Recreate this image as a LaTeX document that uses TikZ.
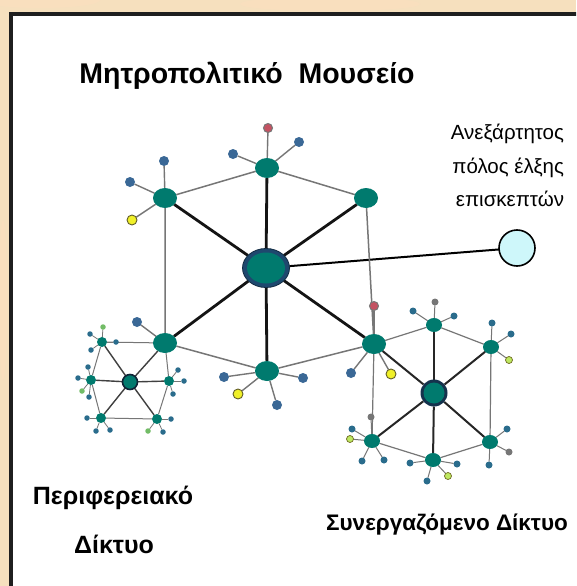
\documentclass[tikz,border=0pt]{standalone}
\usepackage{fontspec}
\setmainfont{Liberation Sans}
\usetikzlibrary{shapes.geometric}
\pgfdeclarelayer{paper}
\pgfdeclarelayer{edges}
\pgfsetlayers{paper,edges,main}
\definecolor{tealn}{RGB}{0,122,110}
\definecolor{hubblue}{RGB}{30,72,110}
\definecolor{satblue}{RGB}{58,104,150}
\definecolor{clblue}{RGB}{42,108,140}
\definecolor{satred}{RGB}{196,82,98}
\definecolor{satyel}{RGB}{240,240,40}
\definecolor{satyg}{RGB}{190,232,96}
\definecolor{satgray}{RGB}{118,118,118}
\definecolor{indblue}{RGB}{206,247,250}
\definecolor{paperc}{RGB}{246,224,190}
\definecolor{edgegray}{RGB}{118,118,118}
\begin{document}
\begin{tikzpicture}[x=1pt,y=-1pt,
  every node/.style={inner sep=0pt, outer sep=0pt},
  mnode/.style={ellipse, fill=tealn, minimum width=24pt, minimum height=20pt},
  hubout/.style={ellipse, fill=hubblue, draw=hubblue!60!black, line width=0.8pt, minimum width=47pt, minimum height=39pt},
  hubin/.style={ellipse, fill=tealn, minimum width=38pt, minimum height=31pt},
  indnode/.style={circle, fill=indblue, draw=black, line width=1.6pt, minimum size=36pt},
  msat/.style={circle, fill=satblue, minimum size=10pt},
  mred/.style={circle, fill=satred, draw=satgray, line width=1pt, minimum size=9pt},
  myel/.style={circle, fill=satyel, draw=olive!60!black, line width=0.9pt, minimum size=10pt},
  rnode/.style={ellipse, fill=tealn, minimum width=16pt, minimum height=14pt},
  rhubout/.style={circle, fill=hubblue!70!black, minimum size=27pt},
  rhubin/.style={circle, fill=tealn, minimum size=21pt},
  rsat/.style={circle, fill=clblue, minimum size=7pt},
  rgray/.style={circle, fill=satgray, minimum size=7pt},
  ryg/.style={circle, fill=satyg, draw=olive!70!black, line width=0.7pt, minimum size=7pt},
  pnode/.style={circle, fill=tealn, minimum size=10pt},
  phub/.style={circle, fill=tealn, draw=hubblue!50!black, line width=1.6pt, minimum size=15pt},
  psat/.style={circle, fill=clblue, minimum size=5.5pt},
  pgreen/.style={circle, fill=satyg!60!tealn, minimum size=5.5pt},
  spoke/.style={line width=2.8pt, black!92},
  hexe/.style={line width=1.5pt, edgegray},
  satl/.style={line width=1.4pt, edgegray},
  rspoke/.style={line width=2pt, black!85},
  rhex/.style={line width=1.2pt, edgegray},
  rsatl/.style={line width=1pt, edgegray},
  pspoke/.style={line width=1.4pt, black!75},
  phex/.style={line width=1pt, edgegray},
  psatl/.style={line width=0.8pt, edgegray},
  titletxt/.style={font=\bfseries\fontsize{28.5}{28.5}\selectfont},
  bigtxt/.style={font=\bfseries\fontsize{25}{25}\selectfont},
  syntxt/.style={font=\bfseries\fontsize{22.5}{22.5}\selectfont},
  smalltxt/.style={font=\fontsize{20.5}{20.5}\selectfont}
]
\useasboundingbox (0,0) rectangle (576,586);
\begin{pgfonlayer}{paper}
  \clip (0,0) rectangle (576,586);
  \fill[paperc] (0,0) rectangle (576,586);
  \fill[orange!25, opacity=0.35] (40,0) ellipse (60pt and 8pt);
  \fill[orange!25, opacity=0.35] (330,4) ellipse (90pt and 7pt);
  \fill[orange!25, opacity=0.35] (3,300) ellipse (4pt and 80pt);
  \draw[line width=3.5pt, fill=white, draw=black!88] (11,14) rectangle (620,630);
\end{pgfonlayer}

% main network
\node[hubout] (H) at (266,268) {};
\node[hubin] (Hi) at (266,268) {};
\node[mnode] (T) at (267,168) {};
\node[mnode] (UR) at (366,198) {};
\node[mnode] (UL) at (165,198) {};
\node[mnode] (LL) at (165,343) {};
\node[mnode] (LR) at (374,344) {};
\node[mnode] (B) at (267,371) {};
\node[indnode] (IND) at (517,248) {};

\begin{pgfonlayer}{edges}
  \foreach \n in {T,UR,UL,LL,LR,B} \draw[spoke] (H) -- (\n);
  \draw[line width=2pt, black] (H) -- (IND);
  \draw[hexe] (T) -- (UR) (T) -- (UL) (UL) -- (LL) (UR) -- (LR) (LL) -- (B) (B) -- (LR);
\end{pgfonlayer}

\foreach \p/\n/\x/\y/\st in {
  T/t1/268/128/mred, T/t2/233/154/msat, T/t3/299/142/msat,
  UL/ul1/164/161/msat, UL/ul2/130/182/msat, UL/ul3/132/220/myel,
  LL/ll1/137/322/msat,
  B/b1/224/377/msat, B/b2/238/394/myel, B/b3/277/405/msat, B/b4/303/378/msat,
  LR/lr1/374/306/mred, LR/lr2/351/373/msat, LR/lr3/391/374/myel}
{
  \node[\st] (\n) at (\x,\y) {};
  \begin{pgfonlayer}{edges}\draw[satl] (\p) -- (\n);\end{pgfonlayer}
}

% right cluster
\node[rhubout] (RH) at (434,393) {};
\node[rhubin] (RHi) at (434,393) {};
\node[rnode] (RT) at (434,325) {};
\node[rnode] (RUR) at (491,347) {};
\node[rnode] (RLR) at (490,442) {};
\node[rnode] (RB) at (433,460) {};
\node[rnode] (RLL) at (372,441) {};
\begin{pgfonlayer}{edges}
  \foreach \n in {RT,RUR,RLR,RB,RLL,LR} \draw[rspoke] (RH) -- (\n);
  \draw[rhex] (LR) -- (RT) (RT) -- (RUR) (RUR) -- (RLR) (RLR) -- (RB) (RB) -- (RLL) (RLL) -- (LR);
\end{pgfonlayer}
\foreach \p/\n/\x/\y/\st in {
  RT/rt1/435/302/rgray, RT/rt2/413/311/rsat, RT/rt3/454/316/rsat,
  RUR/ru1/492/323/rsat, RUR/ru2/511/334/rsat, RUR/ru3/509/360/ryg,
  RLR/rl1/507/429/rsat, RLR/rl2/509/452/rgray, RLR/rl3/489/465/rsat,
  RB/rb1/410/463/rsat, RB/rb2/457/464/rsat, RB/rb3/448/476/ryg, RB/rb4/427/481/rsat,
  RLL/rq1/371/417/rgray, RLL/rq2/352/429/rsat, RLL/rq3/350/439/ryg, RLL/rq4/362/461/rsat, RLL/rq5/384/460/rsat}
{
  \node[\st] (\n) at (\x,\y) {};
  \begin{pgfonlayer}{edges}\draw[rsatl] (\p) -- (\n);\end{pgfonlayer}
}

% left cluster
\node[phub] (PH) at (130,382) {};
\node[pnode] (PUL) at (102,342) {};
\node[pnode] (PR) at (169,381) {};
\node[pnode] (PLR) at (157,419) {};
\node[pnode] (PLL) at (101,418) {};
\node[pnode] (PL) at (91,380) {};
\begin{pgfonlayer}{edges}
  \foreach \n in {PUL,LL,PR,PLR,PLL,PL} \draw[pspoke] (PH) -- (\n);
  \draw[phex] (PUL) -- (LL) (LL) -- (PR) (PR) -- (PLR) (PLR) -- (PLL) (PLL) -- (PL) (PL) -- (PUL);
\end{pgfonlayer}
\foreach \p/\n/\x/\y/\st in {
  PUL/pa1/103/327/pgreen, PUL/pa2/90/334/psat, PUL/pa3/116/342/psat, PUL/pa4/91/350/psat,
  PL/pb1/88/367/psat, PL/pb2/78/378/psat, PL/pb3/82/391/pgreen, PL/pb4/89/397/psat,
  PR/pc1/178/370/psat, PR/pc2/184/381/psat, PR/pc3/173/394/psat,
  PLL/pd1/87/418/psat, PLL/pd2/96/431/psat, PLL/pd3/110/430/psat,
  PLR/pe1/171/419/psat, PLR/pe2/148/431/pgreen, PLR/pe3/163/432/psat}
{
  \node[\st] (\n) at (\x,\y) {};
  \begin{pgfonlayer}{edges}\draw[psatl] (\p) -- (\n);\end{pgfonlayer}
}

% texts
\node[titletxt, anchor=base] (title) at (247,84) {Μητροπολιτικό\ \ Μουσείο};
\node[smalltxt, anchor=base east] (ind1) at (564,139) {Ανεξάρτητος};
\node[smalltxt, anchor=base east] (ind2) at (564,173) {πόλος έλξης};
\node[smalltxt, anchor=base east] (ind3) at (564,206) {επισκεπτών};
\node[bigtxt, anchor=base] (per1) at (113,504) {Περιφερειακό};
\node[bigtxt, anchor=base] (per2) at (114,553) {Δίκτυο};
\node[syntxt, anchor=base] (syn) at (447,530) {Συνεργαζόμενο Δίκτυο};
\end{tikzpicture}
\end{document}
